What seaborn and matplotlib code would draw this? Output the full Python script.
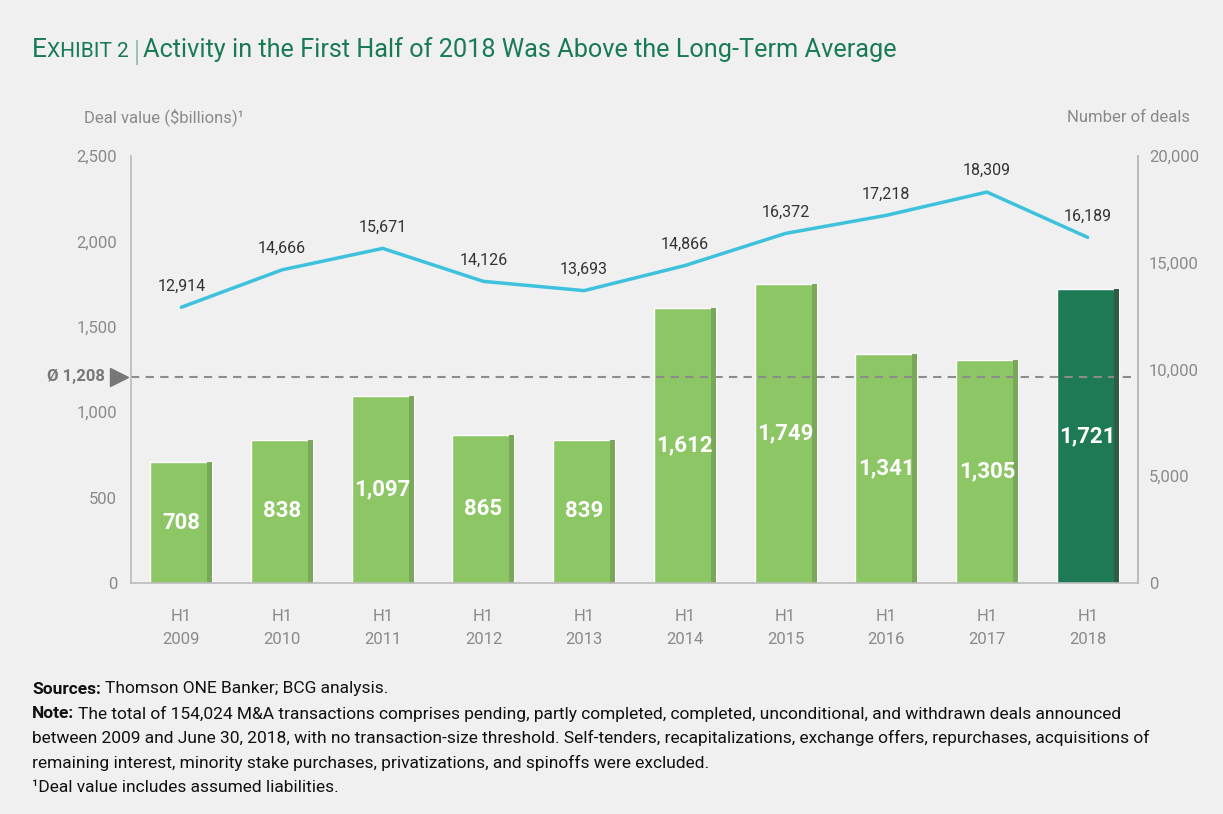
import matplotlib
matplotlib.use("Agg")
import matplotlib.pyplot as plt
import seaborn as sns
import pandas as pd
from matplotlib.patches import Rectangle
from matplotlib.ticker import FuncFormatter

periods = ["H1\n2009", "H1\n2010", "H1\n2011", "H1\n2012", "H1\n2013",
           "H1\n2014", "H1\n2015", "H1\n2016", "H1\n2017", "H1\n2018"]
deal_value = [708, 838, 1097, 865, 839, 1612, 1749, 1341, 1305, 1721]
num_deals = [12914, 14666, 15671, 14126, 13693, 14866, 16372, 17218, 18309, 16189]
average_value = 1208
left_ticks = [0, 500, 1000, 1500, 2000, 2500]
right_ticks = [0, 5000, 10000, 15000, 20000]

BG = "#F0F0F0"
GREEN = "#197A56"
LIGHT = "#8CC665"
LIGHT_EDGE = "#7AA85A"
DARK = "#1D7A55"
DARK_EDGE = "#2F5C47"
LINE = "#3EC1DC"
GRAY = "#8A8A8A"
TXT = "#333333"

sns.set_theme(style="white")
plt.rcParams["font.family"] = ["Roboto", "DejaVu Sans"]

fig = plt.figure(figsize=(12.23, 8.14), dpi=100, facecolor=BG)
ax = fig.add_axes([0.1071, 0.2838, 0.8234, 0.5246])
ax.set_facecolor(BG)

df = pd.DataFrame({"period": periods, "value": deal_value, "deals": num_deals})
colors = [LIGHT] * (len(periods) - 1) + [DARK]
edges = [LIGHT_EDGE] * (len(periods) - 1) + [DARK_EDGE]
sns.barplot(data=df, x="period", y="value", hue="period", palette=colors,
            legend=False, width=0.615, ax=ax, saturation=1)

for p, ec, v in zip(ax.patches, edges, deal_value):
    x0, w, h = p.get_x(), p.get_width(), p.get_height()
    sw = w * 0.08
    ax.add_patch(Rectangle((x0 + w - sw, 0), sw, h, facecolor=ec, edgecolor="none", zorder=p.get_zorder() + 0.1))
    ax.text(x0 + w / 2, h / 2, f"{v:,}", ha="center", va="center", color="white",
            fontsize=16, fontweight="bold", zorder=5)

ax.set_ylim(0, 2500)
ax.set_xlim(-0.5, len(periods) - 0.5)
ax.set_yticks(left_ticks)
ax.yaxis.set_major_formatter(FuncFormatter(lambda v, _: f"{int(v):,}"))
ax.set_xlabel("")
ax.set_ylabel("")
ax.tick_params(axis="y", colors=GRAY, labelsize=12, length=0, pad=10)
ax.tick_params(axis="x", colors=GRAY, labelsize=12, length=0, pad=19)
for lab in ax.get_xticklabels():
    lab.set_linespacing(1.65)
ax.spines["top"].set_visible(False)
for s in ["left", "right", "bottom"]:
    ax.spines[s].set_color("#BBBBBB")
    ax.spines[s].set_linewidth(1.2)

ax.axhline(average_value, color="#8C8C8C", ls=(0, (4, 3)), lw=1.5, zorder=1)
ax.plot([-0.62], [average_value], marker=">", color="#777777", markersize=13,
        clip_on=False, zorder=6)
ax.text(-0.76, average_value, f"Ø {average_value:,}", ha="right", va="center",
        color="#777777", fontsize=12, fontweight="bold")

ax2 = ax.twinx()
ax2.set_facecolor("none")
sns.lineplot(x=list(range(len(periods))), y=num_deals, color=LINE, lw=2.5, ax=ax2)
ax2.set_ylim(0, 20000)
ax2.set_yticks(right_ticks)
ax2.yaxis.set_major_formatter(FuncFormatter(lambda v, _: f"{int(v):,}"))
ax2.tick_params(axis="y", colors=GRAY, labelsize=12, length=0, pad=8)
for s in ["top", "left", "bottom"]:
    ax2.spines[s].set_visible(False)
ax2.spines["right"].set_color("#BBBBBB")
ax2.spines["right"].set_linewidth(1.2)
ax2.grid(False)
for i, n in enumerate(num_deals):
    ax2.annotate(f"{n:,}", (i, n), xytext=(0, 10), textcoords="offset points",
                 ha="center", va="bottom", color=TXT, fontsize=11.5)

# labels above axes
fig.text(84 / 1223, 1 - 117 / 814, "Deal value ($billions)¹", color=GRAY, fontsize=12, va="center")
fig.text(1190 / 1223, 1 - 117 / 814, "Number of deals", color=GRAY, fontsize=12, va="center", ha="right")

# title with small caps
fig.canvas.draw()
r = fig.canvas.get_renderer()
ty = 1 - 57 / 814
t1 = fig.text(32 / 1223, ty, "E", color=GREEN, fontsize=19, va="baseline")
bb = t1.get_window_extent(r)
t2 = fig.text(bb.x1 / 1223, ty, "XHIBIT 2", color=GREEN, fontsize=15, va="baseline")
bb = t2.get_window_extent(r)
t3 = fig.text(bb.x1 / 1223 + 0.004, ty - 0.005, "|", color=GREEN, fontsize=21, va="baseline", fontweight="light")
bb = t3.get_window_extent(r)
fig.text(bb.x1 / 1223 + 0.003, ty, "Activity in the First Half of 2018 Was Above the Long-Term Average",
         color=GREEN, fontsize=18.2, va="baseline")

# footer
fy = [689, 714, 738, 763, 788]
FS = 12.5
def two_part(y, bold, rest):
    t = fig.text(32 / 1223, 1 - y / 814, bold, color="#111111", fontsize=FS, fontweight="bold", va="center")
    bb = t.get_window_extent(r)
    fig.text(bb.x1 / 1223 + 0.003, 1 - y / 814, rest, color="#111111", fontsize=FS, va="center")

two_part(fy[0], "Sources:", "Thomson ONE Banker; BCG analysis.")
two_part(fy[1], "Note:", "The total of 154,024 M&A transactions comprises pending, partly completed, completed, unconditional, and withdrawn deals announced")
fig.text(32 / 1223, 1 - fy[2] / 814, "between 2009 and June 30, 2018, with no transaction-size threshold. Self-tenders, recapitalizations, exchange offers, repurchases, acquisitions of",
         color="#111111", fontsize=FS, va="center")
fig.text(32 / 1223, 1 - fy[3] / 814, "remaining interest, minority stake purchases, privatizations, and spinoffs were excluded.",
         color="#111111", fontsize=FS, va="center")
fig.text(32 / 1223, 1 - fy[4] / 814, "¹Deal value includes assumed liabilities.",
         color="#111111", fontsize=FS, va="center")

fig.savefig("out.png", dpi=100, facecolor=BG)
